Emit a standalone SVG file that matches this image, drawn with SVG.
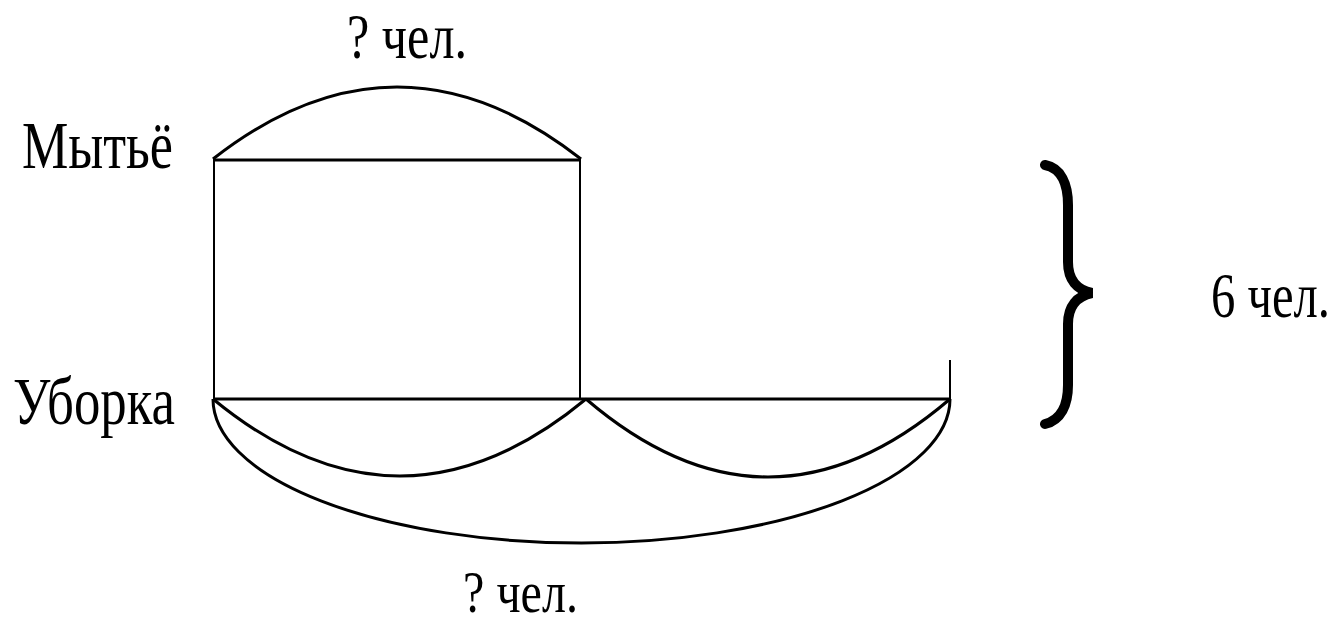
<svg xmlns="http://www.w3.org/2000/svg" width="1343" height="624" viewBox="0 0 1343 624">
<style>
.t{font-family:"Liberation Serif","DejaVu Serif",serif;fill:#000}
.ln{stroke:#000;fill:none;stroke-width:3}
.v{stroke:#000;fill:none;stroke-width:2}
.br{stroke:#000;fill:none;stroke-width:10;stroke-linecap:round;stroke-linejoin:miter}
</style>
<rect width="1343" height="624" fill="#fff"/>
<g id="connectors">
<path class="ln" d="M213,159 Q397,15 581,159"/>
<line class="ln" x1="213" y1="160" x2="581" y2="160"/>
<line class="v" x1="214" y1="160" x2="214" y2="399"/>
<line class="v" x1="580" y1="160" x2="580" y2="399"/>
<line class="v" x1="950" y1="360" x2="950" y2="399"/>
<line class="ln" x1="213" y1="399" x2="950" y2="399"/>
<path class="ln" d="M213,399 Q400,553 586,399"/>
<path class="ln" d="M586,399 Q768,555 950,399"/>
<path class="ln" d="M213,399 A368.5,144 0 0 0 950,399"/>
<path class="br" d="M1045,165 C1061,168 1068,184 1068,205 L1068,262 C1068,280 1077,290 1092,293 C1077,296 1068,306 1068,324 L1068,385 C1068,405 1061,420 1045,424"/>
</g>
<g id="label-top"><text class="t" x="347" y="58" font-size="64" textLength="120" lengthAdjust="spacingAndGlyphs">? чел.</text></g>
<g id="label-myte"><text class="t" x="22" y="168" font-size="68" textLength="151" lengthAdjust="spacingAndGlyphs">Мытьё</text></g>
<g id="label-uborka"><text class="t" x="13" y="424" font-size="68" textLength="162" lengthAdjust="spacingAndGlyphs">Уборка</text></g>
<g id="label-six"><text class="t" transform="matrix(0.78,0,0,1,1211,317)" x="0" y="0" font-size="64" textLength="152.5" lengthAdjust="spacingAndGlyphs">6 чел.</text></g>
<g id="label-bottom"><text class="t" x="463" y="612" font-size="60" textLength="115" lengthAdjust="spacingAndGlyphs">? чел.</text></g>
</svg>
